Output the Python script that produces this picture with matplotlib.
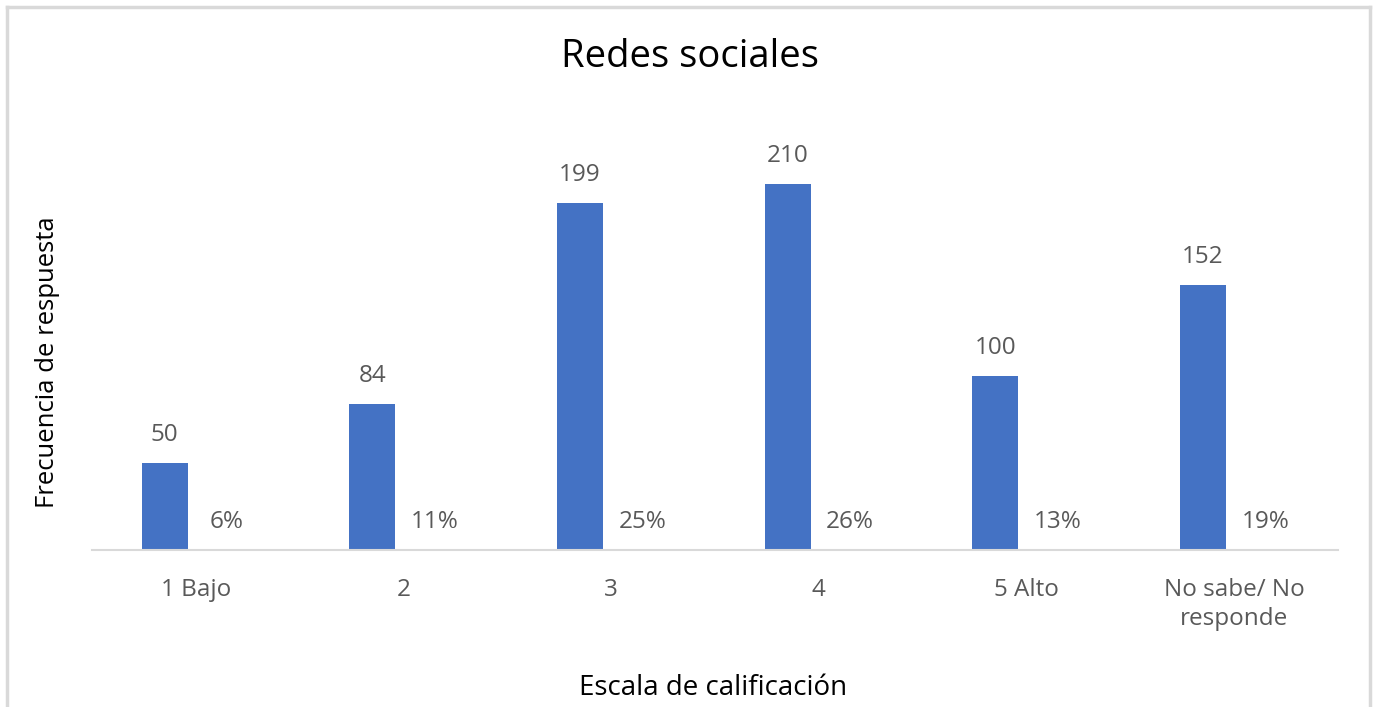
import matplotlib.pyplot as plt
from matplotlib.lines import Line2D
import numpy as np

categorias = ['1 Bajo', '2', '3', '4', '5 Alto', 'No sabe/ No\nresponde']
frecuencia = [50, 84, 199, 210, 100, 152]
porcentaje = [6, 11, 25, 26, 13, 19]

plt.rcParams['font.family'] = ['Open Sans', 'DejaVu Sans']

fig = plt.figure(figsize=(13.78, 7.07), dpi=100)
ax = fig.add_axes([92/1378, 157/707, (1338-92)/1378, 436/707])

x = np.arange(len(categorias))
ancho = 0.222
sep = 0.15
gris = '#595959'

ax.bar(x - sep, frecuencia, width=ancho, color='#4472C4')
# segunda serie: porcentajes (barras casi nulas, solo la etiqueta)
ax.bar(x + sep, [p/100 for p in porcentaje], width=ancho, color='#ED7D31')

for xi, v in zip(x, frecuencia):
    ax.text(xi - sep, v + 16, str(v), ha='center', va='center', fontsize=17.5, color=gris)
for xi, p in zip(x, porcentaje):
    ax.text(xi + sep, 16, f'{p}%', ha='center', va='center', fontsize=17.5, color=gris)

ax.set_xlim(-0.5, len(categorias) - 0.5)
ax.set_ylim(0, 250)
ax.set_xticks(x)
ax.set_xticklabels(categorias, fontsize=17.5, color=gris, linespacing=1.28)
ax.tick_params(axis='x', length=0, pad=20)
ax.set_yticks([])
for s in ['top', 'right', 'left']:
    ax.spines[s].set_visible(False)
ax.spines['bottom'].set_color('#d9d9d9')
ax.spines['bottom'].set_linewidth(1.5)

fig.text(690/1378, 1 - 57/707, 'Redes sociales', ha='center', va='center', fontsize=27.5, color='black')
fig.text(713/1378, 1 - 688/707, 'Escala de calificación', ha='center', va='center', fontsize=20, color='black')
fig.text(48/1378, 1 - 362/707, 'Frecuencia de respuesta', ha='center', va='center', rotation=90, fontsize=18.5, color='black')

# marco del gráfico
borde = '#d9d9d9'
W, H = 1378, 707
fig.add_artist(Line2D([7/W, 7/W], [0, 1 - 7/H], color=borde, lw=2.5, transform=fig.transFigure))
fig.add_artist(Line2D([7/W, 1370/W], [1 - 7/H, 1 - 7/H], color=borde, lw=2.5, transform=fig.transFigure))
fig.add_artist(Line2D([1370/W, 1370/W], [0, 1 - 7/H], color=borde, lw=2.5, transform=fig.transFigure))

fig.savefig('out.png', dpi=100)
